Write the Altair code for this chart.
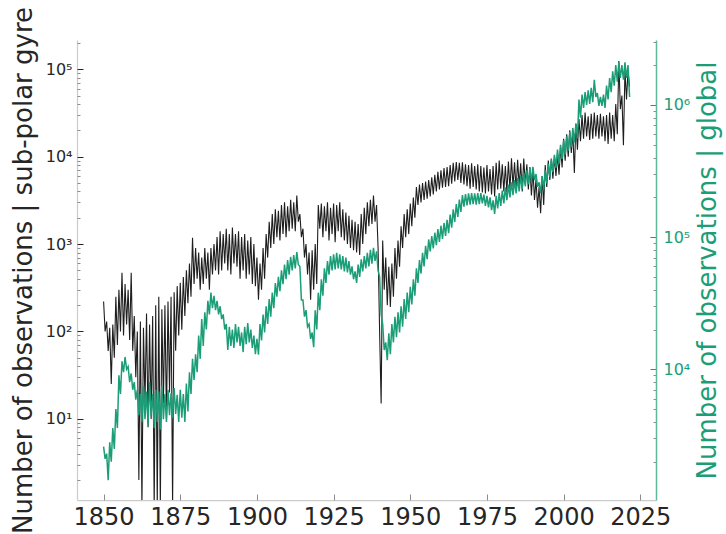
import altair as alt
import pandas as pd

# ---------------------------------------------------------------------------
# Observation counts per year: upper and lower value of the monthly band
# ---------------------------------------------------------------------------
YEARS = list(range(1850, 2022))

SPG_HIGH = [
    220, 130, 110, 120, 250, 300, 470, 350, 300, 470,
    150, 100, 130, 110, 160, 120, 150, 200, 250, 180,
    200, 220, 250, 280, 330, 360, 420, 500, 600, 1180,
    900, 800, 700, 900, 800, 900, 1000, 1200, 1400, 1300,
    1500, 1300, 1550, 1300, 1400, 1200, 1300, 1100, 1200, 1000,
    700, 600, 900, 1300, 1800, 2200, 2500, 2400, 2800, 3000,
    2700, 3200, 3000, 3600, 2200, 1500, 1000, 800, 850, 1000,
    2800, 2900, 2700, 3000, 2600, 2900, 2800, 3000, 2500, 2300,
    2100, 1900, 1800, 1700, 2200, 2600, 3000, 3200, 3600, 2800,
    100, 1100, 700, 550, 600, 900, 1100, 1600, 2200, 2500,
    2900, 3400, 4500, 4800, 5000, 5200, 5400, 5800, 6200, 6700,
    7000, 7400, 7600, 8000, 8500, 8700, 8500, 8600, 8200, 8000,
    8400, 7800, 8200, 7800, 7500, 8000, 7200, 7800, 8500, 9000,
    8200, 7800, 8800, 9600, 8600, 9200, 8400, 9500, 8200, 7600,
    7000, 5500, 4500, 6000, 8000, 9000, 9500, 10000, 10500, 13000,
    16000, 18000, 20000, 19000, 24000, 27000, 30000, 32000, 29000, 31000,
    32000, 30000, 31000, 29000, 30000, 32000, 30000, 40000, 124000, 50000,
    98000, 95000,
]
SPG_LOW = [
    100, 60, 25, 50, 70, 100, 90, 120, 80, 60,
    30, 2, 1, 15, 8, 10, 1, 1, 1, 15,
    10, 20, 1, 60, 90, 105, 150, 210, 250, 350,
    400, 300, 350, 400, 300, 450, 500, 450, 500, 600,
    500, 450, 600, 550, 400, 500, 400, 450, 350, 330,
    230, 300, 400, 700, 900, 1000, 1200, 1100, 1300, 1200,
    1400, 1500, 1400, 1800, 1200, 700, 450, 230, 300, 350,
    1500, 1200, 1400, 1100, 1300, 1050, 1400, 1200, 1100, 1000,
    900, 850, 800, 750, 1000, 1300, 1600, 1700, 1800, 900,
    15, 300, 200, 190, 250, 400, 550, 900, 1200, 1300,
    1600, 2000, 2800, 3000, 3200, 3300, 3500, 3700, 4000, 4200,
    4400, 4500, 4600, 4900, 5200, 5400, 5000, 4800, 4600, 4300,
    4500, 4200, 4000, 3900, 3800, 4000, 3700, 3500, 4200, 4300,
    4000, 3900, 4200, 4500, 4100, 4600, 4000, 4800, 4200, 3600,
    3200, 2600, 2250, 2800, 4500, 5400, 5600, 6000, 6200, 7500,
    9000, 10000, 11000, 6500, 12000, 15000, 16000, 17000, 15500, 16000,
    17000, 16000, 17000, 15000, 14000, 16000, 15000, 18000, 35000, 13500,
    45000, 63000,
]

GLOBAL_HIGH = [
    2600, 2300, 2800, 3600, 5000, 9000, 11500, 12400, 10500, 9300,
    8000, 7000, 6500, 7500, 6800, 8000, 6500, 7000, 6800, 7500,
    6500, 7000, 6600, 7200, 6400, 7000, 6500, 7800, 9500, 12000,
    13000, 18000, 24000, 27000, 33000, 38000, 36000, 33000, 30000, 26000,
    22000, 21000, 20000, 22000, 21000, 19000, 21000, 22400, 20000, 18000,
    17000, 22000, 26000, 30000, 34000, 38000, 45000, 50000, 56000, 62000,
    67000, 71000, 73000, 77000, 60000, 33500, 28000, 22000, 19000, 28000,
    38000, 48000, 58000, 66000, 72000, 74000, 76000, 74000, 72000, 70000,
    66000, 60000, 55000, 62000, 68000, 72000, 76000, 80000, 83000, 78000,
    50000, 22000, 16000, 18700, 22000, 25000, 27000, 30000, 34000, 38000,
    42000, 48000, 58000, 67000, 76000, 86000, 96000, 102000, 108000, 115000,
    122000, 128000, 135000, 148000, 162000, 178000, 192000, 208000, 212000, 214000,
    215000, 214000, 215000, 215000, 210000, 205000, 200000, 190000, 205000, 215000,
    225000, 238000, 250000, 260000, 270000, 280000, 290000, 305000, 320000, 335000,
    340000, 300000, 260000, 290000, 320000, 360000, 390000, 420000, 460000, 500000,
    540000, 580000, 620000, 670000, 720000, 1100000, 1200000, 1250000, 1290000, 1350000,
    1550000, 1230000, 1150000, 1200000, 1400000, 1600000, 1800000, 2000000, 2100000, 2000000,
    2100000, 2000000,
]
GLOBAL_LOW = [
    2100, 1450, 2000, 2500, 3600, 6500, 9500, 10000, 8000, 7000,
    5900, 4500, 4000, 4200, 3800, 4500, 3600, 4000, 3500, 4200,
    4000, 4500, 4300, 4600, 4000, 4300, 4000, 4800, 6500, 8300,
    9500, 12000, 15000, 20000, 26000, 29000, 28000, 26000, 24000, 20000,
    14000, 15000, 14500, 16000, 15000, 13500, 15500, 16000, 14500, 13000,
    12900, 16500, 19000, 22000, 25000, 29000, 35500, 39000, 44000, 48000,
    52000, 56000, 58000, 62000, 33500, 25000, 21000, 17000, 14700, 20000,
    28000, 36000, 45000, 52000, 56000, 57000, 58000, 57000, 55000, 54000,
    52000, 48000, 45000, 50000, 55000, 58000, 60000, 63000, 66000, 56000,
    26000, 14000, 11700, 13000, 16000, 17500, 19000, 21000, 24000, 27000,
    31000, 36000, 45000, 53000, 60000, 68000, 78000, 82000, 87000, 92000,
    97000, 102000, 107000, 118000, 130000, 142000, 155000, 170000, 174000, 176000,
    178000, 176000, 178000, 180000, 172000, 168000, 160000, 150000, 165000, 172000,
    180000, 190000, 200000, 208000, 214000, 222000, 232000, 242000, 252000, 262000,
    270000, 240000, 214000, 230000, 255000, 285000, 310000, 335000, 360000, 390000,
    420000, 450000, 480000, 520000, 560000, 800000, 950000, 1000000, 1020000, 1050000,
    1150000, 985000, 985000, 950000, 1100000, 1250000, 1400000, 1500000, 1600000, 1550000,
    1600000, 1150000,
]

X_TICKS = [1850, 1875, 1900, 1925, 1950, 1975, 2000, 2025]

# ---------------------------------------------------------------------------
# Styling
# ---------------------------------------------------------------------------
FONT = "DejaVu Sans"
DARK = "#262626"
GREEN = "#1b9e77"
SPINE = "#cccccc"
W, H = 579, 460

X_DOMAIN = [1841.33, 2030.12]
LEFT_DOMAIN = [1.18, 2.16e5]
RIGHT_DOMAIN = [1026, 3.1e6]

LEFT_MAJOR = [10, 100, 1000, 10000, 100000]
LEFT_MINOR = [m * 10 ** e for e in range(0, 6) for m in range(2, 10) if m * 10 ** e < LEFT_DOMAIN[1]]
RIGHT_MAJOR = [10000, 100000, 1000000]
RIGHT_MINOR = [m * 10 ** e for e in range(3, 7) for m in range(2, 10)
               if RIGHT_DOMAIN[0] < m * 10 ** e < RIGHT_DOMAIN[1]]

POW_LABEL = "'10' + ['⁰','¹','²','³','⁴','⁵','⁶','⁷'][round(log(datum.value) / LN10)]"


def band(high, low):
    rows = []
    for year, hi, lo in zip(YEARS, high, low):
        rows.append({"t": year, "n": hi})
        rows.append({"t": year + 0.5, "n": lo})
    return pd.DataFrame(rows)


spg = band(SPG_HIGH, SPG_LOW)
glob = band(GLOBAL_HIGH, GLOBAL_LOW)

x_scale = alt.Scale(domain=X_DOMAIN, nice=False, zero=False)
left_scale = alt.Scale(type="log", domain=LEFT_DOMAIN, nice=False)
right_scale = alt.Scale(type="log", domain=RIGHT_DOMAIN, nice=False)


def x_enc(axis):
    return alt.X("t:Q", scale=x_scale, axis=axis, title=None)


# Black series with bottom tick labels and left value labels
spg_line = alt.Chart(spg).mark_line(color="#1e1e1e", strokeWidth=1.1, clip=True).encode(
    x=x_enc(alt.Axis(values=X_TICKS, format="d", ticks=False, tickSize=0,
                     labelFont=FONT, labelFontSize=24, labelColor=DARK, labelPadding=5,
                     labelOverlap=False, labelFlush=False,
                     domainColor=SPINE, domainWidth=1.25, grid=False)),
    y=alt.Y("n:Q", scale=left_scale, title="Number of observations | sub-polar gyre",
            axis=alt.Axis(values=LEFT_MAJOR, labelExpr=POW_LABEL, ticks=False, tickSize=0,
                          labelFont=FONT, labelFontSize=16, labelColor=DARK, labelPadding=5,
                          domainColor=SPINE, domainWidth=1.25, grid=False,
                          titleFont=FONT, titleFontSize=26, titleFontWeight="normal",
                          titleColor=DARK, titlePadding=9)),
)

# Inward ticks: bottom edge and left edge (major)
spg_ticks = alt.Chart(spg).mark_line(opacity=0).encode(
    x=x_enc(alt.Axis(orient="top", offset=-H, values=X_TICKS, labels=False, domain=False,
                     tickSize=6, tickColor="#8c8c8c", tickWidth=1, grid=False)),
    y=alt.Y("n:Q", scale=left_scale, title=None,
            axis=alt.Axis(orient="right", offset=-W, values=LEFT_MAJOR, labels=False,
                          domain=False, tickSize=6, tickColor=DARK, tickWidth=1, grid=False)),
)

# Inward ticks: left edge (minor)
spg_minor = alt.Chart(spg).mark_line(opacity=0).encode(
    x=x_enc(None),
    y=alt.Y("n:Q", scale=left_scale, title=None,
            axis=alt.Axis(orient="right", offset=-W, values=LEFT_MINOR, labels=False,
                          domain=False, tickSize=3, tickColor="#8c8c8c", tickWidth=1, grid=False)),
)

# Inward ticks: right edge (major and minor)
glob_ticks = alt.Chart(glob).mark_line(opacity=0).encode(
    x=x_enc(None),
    y=alt.Y("n:Q", scale=right_scale, title=None,
            axis=alt.Axis(orient="left", offset=-W, values=RIGHT_MAJOR, labels=False,
                          domain=False, tickSize=6, tickColor="#6f6f6f", tickWidth=1, grid=False)),
)
glob_minor = alt.Chart(glob).mark_line(opacity=0).encode(
    x=x_enc(None),
    y=alt.Y("n:Q", scale=right_scale, title=None,
            axis=alt.Axis(orient="left", offset=-W, values=RIGHT_MINOR, labels=False,
                          domain=False, tickSize=3, tickColor="#8c8c8c", tickWidth=1, grid=False)),
)

# Green series with right value labels
glob_line = alt.Chart(glob).mark_line(color=GREEN, strokeWidth=1.5, clip=True).encode(
    x=x_enc(None),
    y=alt.Y("n:Q", scale=right_scale, title="Number of observations | global",
            axis=alt.Axis(orient="right", values=RIGHT_MAJOR, labelExpr=POW_LABEL,
                          ticks=False, tickSize=0,
                          labelFont=FONT, labelFontSize=16, labelColor=GREEN, labelPadding=7,
                          domainColor="#5fb89c", domainWidth=1.5, grid=False,
                          titleFont=FONT, titleFontSize=26, titleFontWeight="normal",
                          titleColor=GREEN, titleAngle=270, titleBaseline="top",
                          titlePadding=5)),
)

chart = (
    alt.layer(spg_line, spg_ticks, spg_minor, glob_ticks, glob_minor, glob_line)
    .resolve_scale(x="independent", y="independent")
    .properties(
        width=W,
        height=H,
        padding={"left": 77, "top": 40, "right": 70, "bottom": 34},
        autosize=alt.AutoSizeParams(type="none"),
        background="white",
    )
    .configure_view(stroke=None)
)

chart.save("out.html", embed_options={"renderer": "svg", "actions": False})
